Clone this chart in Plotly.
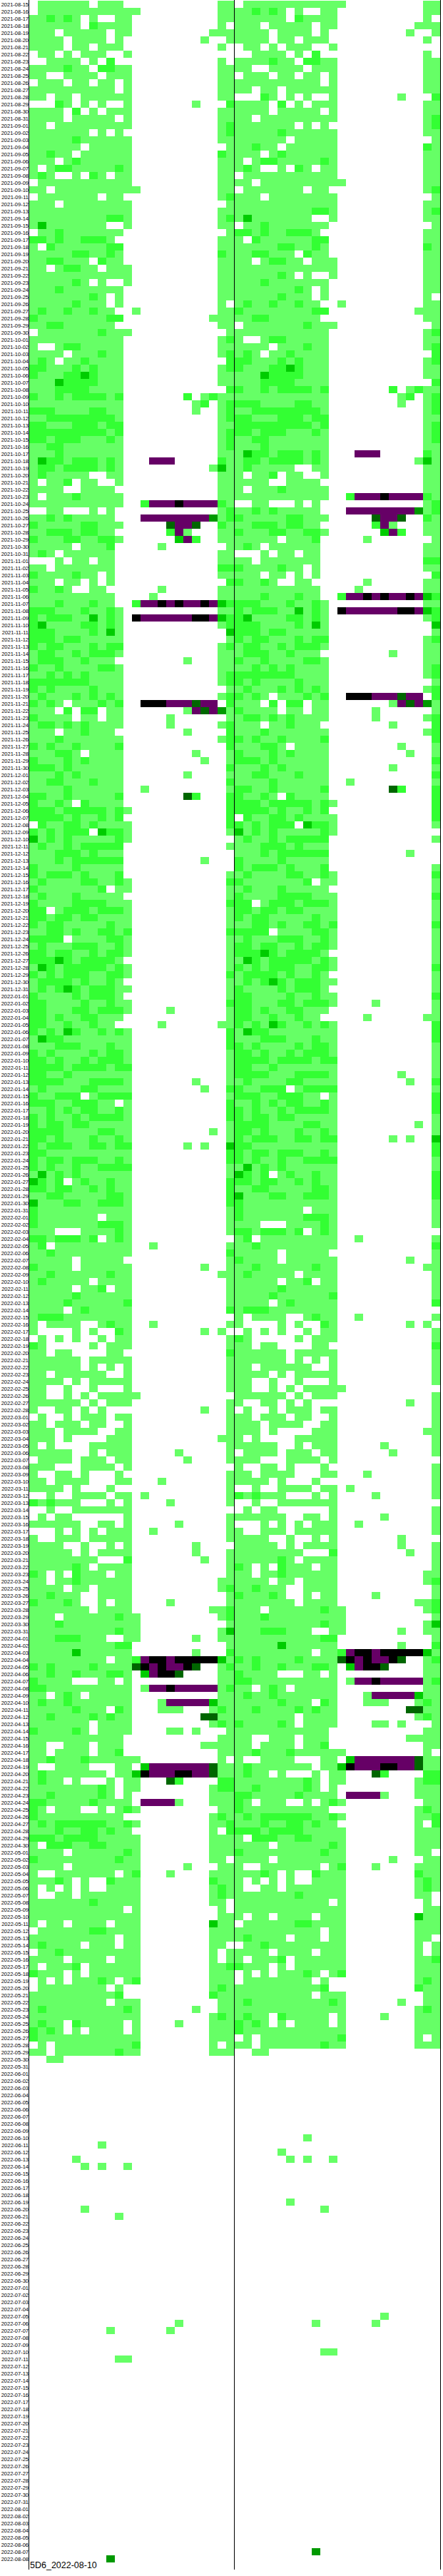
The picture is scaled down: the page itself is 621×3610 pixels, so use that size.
import pandas as pd
import plotly.graph_objects as go

# Each row: first 12 cells, next 10 cells ("-" = all empty), last 2 cells, for the left panel.
# . empty, 1 #66ff66, 2 #33ff33, 3 #00cc00, 4 #009900, 5 #006600, k black, p purple.
AUG_2021 = """.111111.111. - 11
.11111111111 1......... 11
112121.1..11 - 11
111111.21111 - 1.
111.11111.11 .........1 11
1111.1111.1. ........1. .1
1111.11.111. - 1.
.11.1.111..1 - ..
..1111.1.2.. - 1.
1111211.2211 - 11
11..1111.111 - 11
.111.11.11.1 - 11
1111111111.1 - 11
11.11.111111 - 11
...21.1.1..1 .......1.. .2
1111.2.1.111 - 11
1111.11111.1 - 11"""
SEP_2021 = """11.111111111 - 12
1111111.1.1. - 12
111112111111 - 11
111111.11111 - .1
11211.111111 - 21
111.12111111 - 11
1.1221111121 - 11
121..1.21.11 - 11
.11111111111 - 11
11.111111111 1......... 11
.1111111.11. - 12
111.11111111 - .1
111111111111 - 11
111111111221 - 12
131111111..1 - 11
.1121111111. - .1
2212112221.. - 11
1.211111122. - 11
11111221121. - 21
1122111.211. - 11
11.12211.111 - 11
111111111111 - 11
1111121.1..1 - 11
11121111111. - 11
111111121.1. - 11
111112111.1. - 1.
1211211211.. 1......... 11
21111111122. .........1 11
1122111111.. - 11
.11111112111 - .1"""
OCT_2021 = """11111111111. - 12
1..12211111. - 11
1111.111211. - 12
121.1121111. - .2
22111212111. - 12
21112232111. - 11
11132222111. - 11
11122221111. - .2
21121222212. ......2.12 11
11111111111. .......12. 12
22211112211. .......1.. 12
11222222221. - 12
22111222122. - 11
22222222212. - 12
22122211121. - 12
11221111111. - 12
11121111111. - 11
13221222121. ..ppp..... 21
12212222121. .........1 31
1211111..11. - 11
1.112.11..1. - 11
1111..1111.. - 11
1.111211111. - 11
11111111111. .2pppkpppp 21
..11...1.1.. - 12
1121211111.. .pppppppp4 12
21111122111. ....5pp5.. 21
1122212211.. ....2p1... 11
21112211221. .....3p2.. 11
11111.1112.. ...1...... .1
121.111111.. - 11"""
NOV_2021 = """...1.11.11.. - 11
11.1111111.. - 22
21111211.1.. - 11
111.11.1.1.. - .2
21121..11... ...1...... 11
1111111111.. ..1....... 11
1112111211.. 2ppkpkppkp 32
22211121121. - 11
21222113121. kppppppkkp 32
23111122121. - 12
22211112131. - .3
22212211111. - .1
21221112122. - 12
12211212221. - 11
1222112111.. ......1... 11
21121111221. - 11
11212121111. - 12
22222221111. - 12
21211112111. - .1
12111212121. - 12
2121.111212. .kkkppp5pp .2
111.2.22.11. ......1p5p 41
21111.11.11. ....1..... .1
12212121111. ....1..... 12
111.112111.. ......1... .2
11121111111. - 12
21211211112. - .2
111221.1111. .......1.. .1
21112121111. ........1. .1
22212111111. - .2"""
DEC_2021 = """11121211111. ......1... .1
11221112111. - .2
11112111111. .1........ .1
22112111112. ......52.. .2
21121.21111. - .2
222122222121 - .2
22221211212. - .2
.21122121111 - .2
2121222.3221 - .1
312121111121 - ..
12112122222. - .1
11122212111. - ..
11121222222. ........1. ..
21111211111. - ..
21222121112. - .1
121111221121 - .2
211111112.11 - .1
12111211111. - .1
211112222111 - .2
22.122212221 - .1
221221221111 - .1
212211111211 - .1
112212112212 - .2
2222.1111221 - .1
121112221121 - .1
221221121221 - .1
22232122221. - .1
132122222121 - .1
212122211221 - .2
12222121121. - .1
121232122211 - .1"""
JAN_2022 = """21111212221. - .1
221111211211 - .2
221112212221 ....1..... .1
22121122111. - .1
2211211211.. ...1...... 11
212132112121 - .2
132211111111 - .2
111222111211 - .2
212111121221 - .1
221211212221 - .1
222212222122 - .1
221121111111 - .1
222211122221 .......1.. .1
121111221111 ........1. .2
211222.12222 - .1
2221122211.1 - .2
112121221121 - .2
212112122221 - .2
212212211111 - .1
222211112211 .........1 .1
221211121121 - .1
212221122122 ......1.1. .3
221111111111 - .2
212212221121 - .2
212112112222 - .1
131212111111 - .1
3212.1211211 - .2
221221121211 - .2
112211111221 - .2
311122112221 - .2
211111111111 - .1"""
FEB_2022 = """21111111.111 - .1
211111112221 - .1
111...111121 - .1
22122212.121 - ..
12.111111111 ..1....... .1
112111111111 - .2
11111.11111. - .1
21111.111111 ........1. .1
112111111211 - 11
1211111.1111 - .1
11111.112.11 - .1
111112111111 - .1
111121111112 - .1
1111.1211111 - .2
122211111111 - ..
1.1111..1211 ..1....... .1
1....1.1..21 ........1. 1.
.1.1.1..1.11 - .1
21.....1.111 - .1
11.11....11. - .2
111111.11111 - .1
111111.1.1.1 - .1
11.111111..1 - .1
1111.1.11111 - .1
11..1..1...1 - .1
11..1.1.1111 1......... ..
111111.1.111 - .1
1..11.1.1... ........1. .1"""
MAR_2022 = """.1..1.111.11 - .1
11.111.11..1 - .1
111.1111..11 - .1
111.1....111 - 11
1.1....11111 - .1
11111..1.111 .....1.... .1
.1111.111.11 ......1... .1
111...1111.1 - ..
1..11.1...1. - .1
11.1111...11 ...1...... .1
1111.1...1.. - .1
..1..1111.11 .1........ .1
212111...1.1 ....1..... .1
..1..1111111 - ..
.1.11......1 - .1
111111..11.1 .....1.... .1
...1.1.1.111 ..1....... .1
1..111.11111 - .1
1111..1..1.1 .......1.. ..
11111.1.1111 .......1.. .1
11111111...2 ........1. .1
1111121.1111 - .1
21.1.2111.11 - .1
11.112111111 - 11
1111.11.1111 - 12
112111..1111 - .1
211121..1.11 ....1..... .1
1111111.1111 .........1 12
111.11111121 1......... 12
111211111111 1......... .1
111111111121 1......... 13"""
APR_2022 = """111222111..1 1......1.. 11
111111111122 - .1
111113111111 .......1.. .2
111111111.11 2pkkpkkkkk 31
212111121111 5kpkppk5.. 12
112112111221 .3pkk5.... 11
21111...11.1 - 11
221111111111 .1ppkppppp 12
11.121.11111 - 11
121121111111 ...1ppppp3 11
111112111.21 ...111...1 21
112111121211 ........55 11
1111111.1111 .........1 21
2111121.1111 ....11.1.. .1
11111111111. - 11
11..111.111. ........11 11
11.1111.112. - 11
112111211111 1......... 1.
1..1111...11 .3ppppppp5 11
121111111.11 3kpppkkpp5 11
1211.1...1.1 1...52.... 22
1111111121.1 1........1 22
1121111121.1 .........1 11
221111121111 .pppp1...1 11
21.111..1.12 1......... 11
21111111111. .........1 21
121222222112 1........1 12
111211221211 .........1 .2
222122221111 1........1 11
1.2221122111 1........1 11"""
MAY_2022 = """1111.1111112 1........1 11
211111111121 1........1 1.
1111.1111111 1.....1... 11
1..1111111.1 2...1....1 11
11121.1..211 1........2 11
1.1.1.1..111 1........1 21
1..11.111111 1........1 21
111111121111 1........1 1.
11111111111. 1......... 1.
111111111111 1......... 11
1.11.1111.11 1........3 11
.11111122111 1........1 11
1111111111.1 1........1 11
121111.111.1 1........1 1.
.11211111111 1........1 .1
1111.1111.11 1........1 .1
1.1112.11111 1........1 12
2111.1.11111 1........1 11
.1.1.11121.1 2........1 11
.11111111.1. .........1 21
11111111112. .........2 11
111111111.11 1......... 11
121111111112 1......1.. 11
111111111111 1........1 21
1211.211111. 1....1...1 11
2121.1.1111. 1........1 11
211111111111 1........1 11
.1.111111111 2........1 .1
11.111111121 1........1 11
..11........ - .."""
# Sparse cells after 2022-05-30: date -> row.
LATE_2022 = {
    "2022-06-11": "........1... - ..",
    "2022-06-13": ".....1...... - ..",
    "2022-06-14": "......1.1..1 - ..",
    "2022-06-20": "......1..... - ..",
    "2022-06-21": "..........1. - ..",
    "2022-07-06": "............ .....1.... ..",
    "2022-07-07": ".........1.. ....1..... ..",
    "2022-07-11": "..........11 - ..",
    "2022-08-08": ".........4.. - ..",
}
FIRST_DAY = "2021-08-15"
LAST_DAY = "2022-08-08"
TITLE = "5D6_2022-08-10"
LEVELS = {".": 0, "1": 1, "2": 2, "3": 3, "4": 4, "5": 5, "k": 6, "p": 7}
COLORS = ["#ffffff", "#66ff66", "#33ff33", "#00cc00", "#009900", "#006600", "#000000", "#660066"]

W, H = 621, 3610
L, R, T, B = 41, 617, 1, 3591


def parse(line):
    a, b, c = line.split()
    b = "." * 10 if b == "-" else b
    assert len(a) == 12 and len(b) == 10 and len(c) == 2, line
    return [LEVELS[ch] for ch in a + b + c]


days = [d.strftime("%Y-%m-%d") for d in pd.date_range(FIRST_DAY, LAST_DAY)]
dense = []
sizes = []
for block in (AUG_2021, SEP_2021, OCT_2021, NOV_2021, DEC_2021, JAN_2022, FEB_2022, MAR_2022, APR_2022, MAY_2022):
    lines = block.split("\n")
    sizes.append(len(lines))
    dense += [parse(s) for s in lines]
assert sizes == [17, 30, 31, 30, 31, 31, 28, 31, 30, 30], sizes

empty = [0] * 24
left = dense + [parse(LATE_2022[d]) if d in LATE_2022 else empty for d in days[len(dense):]]
assert len(left) == len(days)
# The second panel repeats the first, one day earlier.
z = [left[i] + (left[i + 1] if i + 1 < len(left) else empty) for i in range(len(days))]

n = len(COLORS)
scale = []
for i, c in enumerate(COLORS):
    scale += [[i / n, c], [(i + 1) / n, c]]

fig = go.Figure(go.Heatmap(
    z=z, x=list(range(48)), y=days, zmin=-0.5, zmax=n - 0.5,
    colorscale=scale, showscale=False, xgap=0, ygap=0, hoverongaps=False,
))

pw, ph = R - L, B - T
fig.update_layout(
    width=W, height=H, autosize=False,
    margin=dict(l=L, r=W - R, t=T, b=H - B, pad=0),
    paper_bgcolor="white", plot_bgcolor="white",
    xaxis=dict(range=[-0.5, 47.5], visible=False, fixedrange=True),
    yaxis=dict(
        type="category", autorange=False, range=[len(days) - 0.5, -0.5],
        tickmode="array", tickvals=days, ticktext=days, ticks="", ticklen=0,
        showgrid=False, zeroline=False, showline=False,
        tickfont=dict(family="Liberation Sans, Arial", size=7.5, color="black"),
        automargin=False,
    ),
    shapes=[
        dict(type="line", xref="paper", yref="paper",
             x0=(px - L) / pw, x1=(px - L) / pw, y0=1 + T / ph, y1=(B - 3601) / ph,
             line=dict(color="black", width=1))
        for px in (40.5, 328.5, 617.5)
    ],
    annotations=[dict(
        text=TITLE, xref="paper", yref="paper", x=0, y=(B - 3602.5) / ph,
        xanchor="left", yanchor="bottom", showarrow=False, borderpad=0,
        font=dict(family="Liberation Sans, Arial", size=12.5, color="black"),
    )],
)
fig.write_html(
    "out.html",
    config={"displayModeBar": False},
    post_script="document.body.style.margin='0';document.documentElement.style.overflow='hidden';",
)
